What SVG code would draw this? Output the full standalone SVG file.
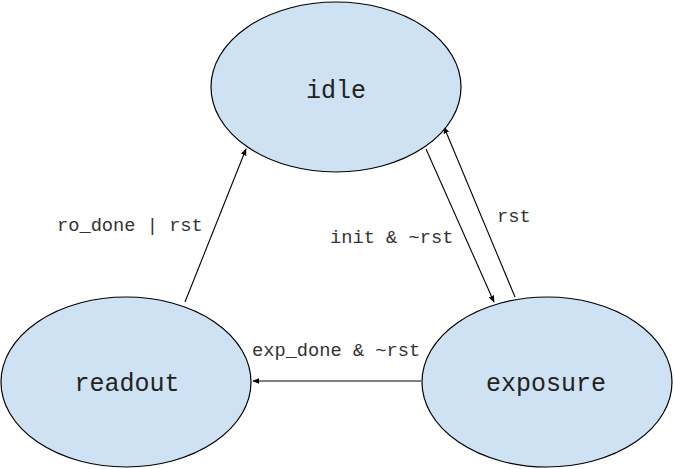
<svg xmlns="http://www.w3.org/2000/svg" width="674" height="469" viewBox="0 0 674 469">
<style>
.node{fill:#cfe2f3;stroke:#000;stroke-width:1.2}
.nl{font-family:"Liberation Mono","Courier New",monospace;font-size:25px;fill:#222;text-anchor:middle}
.el{font-family:"Liberation Mono","Courier New",monospace;font-size:18.7px;fill:#333}
.edge{stroke:#000;stroke-width:1.1;fill:none;marker-end:url(#ah)}
</style>
<defs>
<marker id="ah" viewBox="0 0 10 10" refX="9" refY="5" markerWidth="7" markerHeight="7" markerUnits="userSpaceOnUse" orient="auto">
<path d="M0,1 L10,5 L0,9 z" fill="#000"/>
</marker>
</defs>
<rect width="674" height="469" fill="#fff"/>
<g id="connectors">
<line class="edge" x1="185" y1="302" x2="246" y2="149"/>
<line class="edge" x1="426" y1="149" x2="494" y2="302"/>
<line class="edge" x1="515" y1="297" x2="444" y2="127"/>
<line class="edge" x1="421" y1="381" x2="253" y2="381"/>
<text class="el" x="57" y="231">ro_done | rst</text>
<text class="el" x="330" y="243">init &amp; ~rst</text>
<text class="el" x="497" y="222">rst</text>
<text class="el" x="252" y="356">exp_done &amp; ~rst</text>
</g>
<g id="idle">
<ellipse class="node" cx="336" cy="87" rx="125" ry="85"/>
<text class="nl" x="336" y="98">idle</text>
</g>
<g id="readout">
<ellipse class="node" cx="126" cy="382" rx="125" ry="85"/>
<text class="nl" x="127" y="391">readout</text>
</g>
<g id="exposure">
<ellipse class="node" cx="547" cy="382" rx="125" ry="85"/>
<text class="nl" x="546" y="391">exposure</text>
</g>
</svg>
